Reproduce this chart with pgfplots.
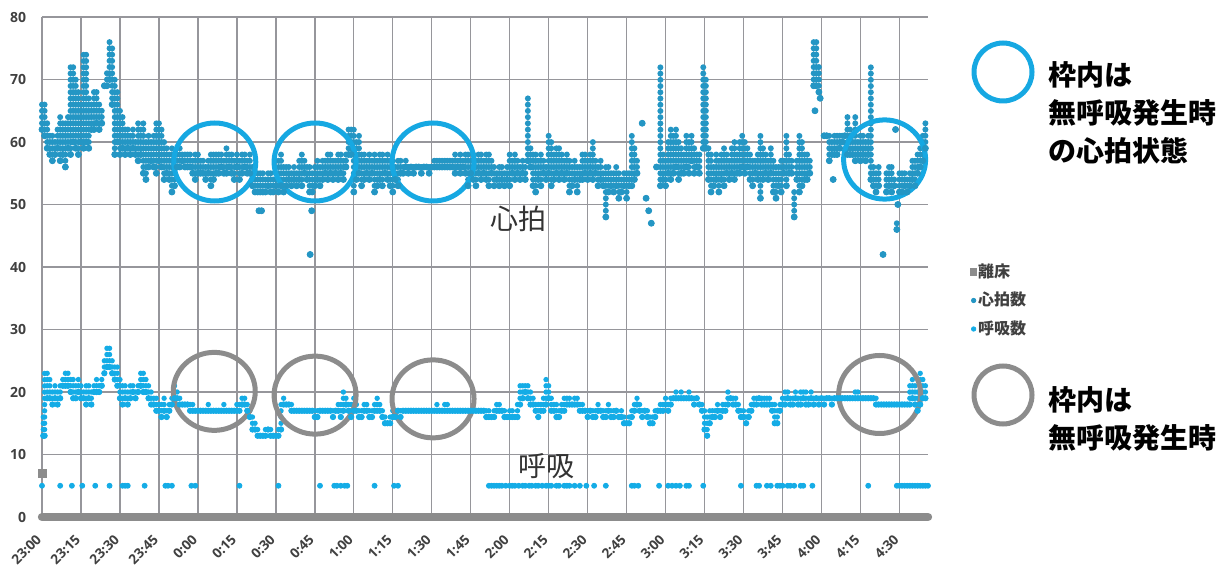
\documentclass[border=0pt]{standalone}
\usepackage{fontspec}
\setmainfont{Open Sans}
\newfontfamily\jp{Noto Sans CJK JP}
\usepackage{pgfplots}
\pgfplotsset{compat=1.18}
\usepackage{pgfplotstable}
\definecolor{hr}{RGB}{36,150,196}
\definecolor{br}{RGB}{20,172,230}
\definecolor{ringblue}{RGB}{22,168,226}
\definecolor{ringgray}{RGB}{140,140,140}
\definecolor{gridc}{RGB}{150,150,155}
\definecolor{barc}{RGB}{140,140,140}
\definecolor{tickc}{RGB}{64,64,64}

\pgfplotstableread{
m lo hi
0 62 66
1 61 66
2 59 63
3 58 61
4 57 61
5 58 60
6 59 62
7 57 64
8 58 63
9 56 63
10 59 64
11 58 72
12 60 72
13 59 70
14 58 68
15 60 66
16 59 74
17 60 74
18 59 67
19 62 66
20 62 68
21 63 68
22 62 66
23 63 65
24 69 69
25 69 71
26 70 76
27 66 75
28 58 70
29 60 68
30 58 65
31 59 64
32 58 62
33 59 62
34 58 61
35 59 62
36 58 60
37 57 63
38 58 62
39 55 63
40 54 60
41 56 61
42 57 60
43 56 61
44 55 63
45 57 63
46 56 62
47 54 60
48 55 59
49 54 58
50 52 59
51 53 57
52 56 58
53 56 59
54 57 58
55 56 58
56 56 58
57 56 58
58 55 57
59 54 58
60 55 58
61 55 57
62 55 57
63 54 56
64 55 57
65 53 58
66 54 58
67 55 58
68 55 58
69 56 58
70 55 57
71 55 59
72 56 58
73 55 58
74 54 57
75 56 58
76 54 57
77 55 58
78 56 58
79 55 57
80 55 58
81 53 56
82 52 55
83 52 55
83.5 49 49
84.5 49 49
84 52 55
85 52 55
86 52 54
87 53 55
88 52 55
89 52 54
90 53 55
91 52 57
92 53 58
93 52 56
94 53 56
95 54 56
96 53 55
97 54 56
98 53 55
99 54 57
100 53 58
101 55 57
102 54 56
103 52 56
103.2 42 42
103.8 49 49
104 52 55
105 53 56
106 54 57
107 53 56
108 54 57
109 55 57
110 54 58
111 55 58
112 54 57
113 55 57
114 54 58
115 55 58
116 54 57
117 56 58
118 58 62
119 58 62
120 52 62
121 54 60
122 55 61
123 53 58
124 54 58
125 55 57
126 54 58
127 55 57
128 52 58
129 53 57
130 54 58
131 53 58
132 55 57
133 54 58
134 53 57
135 52 57
136 54 56
137 53 57
138 55 57
139 55 56
140 56 57
141 55 56
142 56 56
143 55 56
144 56 56
145 56 56
146 55 56
147 56 56
148 56 56
149 55 56
150 56 56
151 56 57
152 56 57
153 56 57
154 56 57
155 56 57
156 56 57
157 56 57
158 56 57
159 55 58
160 56 57
161 55 58
162 56 57
163 55 58
164 53 58
165 55 57
166 54 58
167 53 57
168 55 58
169 54 58
170 55 57
171 54 58
172 53 58
173 55 57
174 53 56
175 54 55
176 53 56
177 54 56
178 53 55
179 54 56
180 53 58
181 55 57
182 54 58
183 55 57
184 54 56
185 55 57
186 54 56
187 57 67
188 56 59
189 53 58
190 52 58
191 54 57
192 53 58
193 55 57
194 54 56
195 55 61
196 53 60
197 54 58
198 55 59
199 54 59
200 55 58
201 54 57
202 55 58
203 52 57
204 53 56
205 54 57
206 52 56
207 54 56
208 54 58
209 55 58
210 54 57
211 55 58
212 54 60
213 55 57
214 53 56
215 54 57
216 53 55
217 48 56
218 52 56
219 53 55
220 52 55
221 53 56
222 51 55
223 52 54
224 53 55
225 51 55
226 53 55
227 53 61
228 54 59
229 55 57
231 63 63
232.5 51 51
233.5 49 49
234.5 47 47
236.5 56 56
238 53 72
239 54 58
240 53 57
241 55 60
242 54 62
243 55 61
244 56 62
245 54 60
246 55 59
247 55 58
248 56 61
249 55 60
250 57 61
251 55 59
252 56 58
253 55 58
254.5 59 72
255.5 59 70
256.5 54 59
257.5 52 58
258.5 53 56
259.5 54 58
260.5 52 57
261.5 54 58
262.5 53 59
263.5 55 58
264.5 54 57
265.5 55 59
266.5 54 60
267.5 55 58
268.5 55 60
269.5 56 61
270.5 55 60
271.5 56 59
272.5 54 58
273.5 53 57
274.5 55 57
275.5 54 58
276.5 51 61
277.5 54 59
278.5 55 58
279.5 54 57
280.5 55 59
281.5 52 57
282.5 51 56
283.5 53 56
284.5 52 57
285.5 55 57
286.5 53 61
287.5 55 58
288.5 55 57
289.5 48 52
290.5 54 57
291.5 52 61
292.5 53 60
293.5 54 58
294.5 54 58
295.5 55 57
297 69 76
298 69 76
299 68 72
299.5 67 67
297.5 65 65
301 61 61
302 61 61
303 57 61
304 58 60
304.5 54 54
305 58 61
306 58 61
307 59 61
308 60 61
309 61 61
310 58 64
311 58 62
312 58 61
313 57 64
314 58 60
315 57 61
316 58 61
317 57 60
318 58 61
319 54 72
320 53 56
321 52 55
322 53 56
323.7 42 42
325 52 55
326 53 56
327 52 56
328 53 54
329 46 47
329.4 50 50
328.5 62 62
330 52 55
331 52 55
332 53 55
333 52 54
334 53 55
335 54 57
336 53 57
337 55 58
338 56 59
339 57 61
340 59 63
}\hrdata

\pgfplotstableread{
m lo hi
0.5 13 16
1 13 23
2 19 23
3 19 22
4 18 20
5 19 21
6 18 20
7 19 21
8 21 22
9 21 23
10 21 23
11 20 22
12 19 22
13 19 21
14 20 22
15 19 21
16 19 20
17 18 21
18 19 21
19 18 20
20 20 21
21 20 22
22 20 21
23 21 22
24 23 25
25 24 27
26 24 27
27 23 25
28 22 24
29 21 24
30 19 22
31 18 21
32 19 21
33 18 20
34 19 21
35 20 21
36 19 20
37 20 21
38 21 23
39 20 23
40 20 22
41 19 21
42 18 20
43 18 19
44 17 19
45 17 18
46 16 18
47 17 19
48 16 17
49 17 18
50 18 19
51 19 21
52 19 20
53 18 19
54 18 18
55 18 18
56 18 18
57 17 18
58 17 18
59 17 17
60 17 17
61 17 17
62 17 17
63 17 17
64 17 18
65 17 17
66 17 17
67 17 17
68 17 17
69 17 17
70 17 18
71 17 17
72 17 17
73 17 17
74 17 17
75 17 18
76 17 18
77 18 19
78 18 19
79 17 18
80 16 17
81 14 16
82 14 15
83 13 14
84 13 13
85 13 13
86 13 14
87 14 14
88 13 14
89 13 13
90 13 13
91 13 14
92 14 18
93 18 19
94 18 18
95 18 18
96 17 18
97 17 17
98 17 17
99 17 17
100 17 17
101 17 17
102 17 17
103 17 17
104 17 17
105 16 17
106 16 17
107 17 17
108 17 17
109 17 17
110 17 17
111 17 17
112 16 17
113 17 17
114 17 18
115 16 18
116 17 20
117 18 19
118 17 18
119 16 18
120 17 19
121 17 18
122 16 17
123 16 17
124 17 18
125 17 18
126 16 17
127 16 17
128 17 18
129 17 19
130 17 18
131 16 17
132 15 16
133 15 15
134 15 16
135 16 17
136 16 17
137 17 17
138 16 17
139 17 17
140 17 17
141 17 17
142 17 17
143 17 17
144 17 17
145 17 17
146 17 17
147 17 17
148 17 17
149 17 17
150 17 17
151 17 17
152 17 18
153 17 17
154 17 17
155 17 18
156 17 18
157 17 17
158 17 17
159 17 17
160 17 17
161 17 17
162 17 17
163 17 17
164 17 17
165 17 17
166 17 17
167 17 17
168 17 17
169 17 17
170 17 17
171 16 17
172 16 17
173 16 16
174 16 17
175 17 18
176 17 18
177 17 17
178 16 17
179 16 16
180 16 17
181 16 17
182 16 16
183 16 18
184 18 21
185 19 21
186 20 21
187 19 21
188 18 20
189 18 19
190 17 18
191 16 18
192 17 18
193 17 19
194 18 22
195 19 21
196 17 19
197 17 18
198 16 18
199 16 17
200 17 18
201 17 19
202 18 19
203 18 19
204 18 18
205 18 19
206 18 19
207 17 18
208 17 18
209 17 17
210 16 17
211 17 17
212 16 17
213 16 17
214 17 18
215 17 17
216 16 17
217 16 17
218 17 18
219 16 17
220 16 17
221 17 17
222 16 16
223 16 17
224 15 16
225 15 15
226 15 16
227 16 17
228 17 18
229 18 19
230 17 18
231 16 17
232 17 17
233 16 17
234 15 16
235 15 16
236 16 17
237 17 17
238 17 18
239 17 18
240 18 19
241 17 18
242 18 19
243 19 19
244 19 20
245 19 19
246 19 20
247 19 19
248 19 19
249 19 20
250 19 19
251 18 19
252 19 19
253 18 18
254 17 18
255 14 17
256 13 16
257 15 17
258 16 17
259 16 17
260 17 18
261 16 17
262 17 18
263 17 18
264 18 20
265 19 19
266 18 19
267 18 19
268 17 18
269 16 17
270 16 17
271 15 16
272 16 17
273 17 18
274 18 19
275 18 19
276 19 19
277 18 19
278 18 19
279 18 19
280 18 19
281 17 18
282 15 18
283 15 17
284 17 18
285 18 19
286 18 20
287 19 20
288 18 19
289 18 19
290 19 20
291 18 19
292 18 20
293 19 20
294 18 20
295 18 19
296 19 20
297 18 19
298 19 19
299 18 19
300 19 19
301 18 19
302 19 19
303 19 19
304 18 19
305 19 19
306 19 19
307 19 19
308 19 19
309 19 19
310 19 19
311 19 19
312 19 19
313 19 20
314 19 20
315 19 19
316 19 19
317 19 19
318 19 19
319 19 19
320 19 19
321 18 19
322 18 18
323 18 18
324 18 18
325 18 18
326 18 18
327 18 18
328 18 18
329 18 18
330 18 18
331 18 18
332 18 18
333 18 18
334 18 21
335 19 22
336 18 21
337 17 20
338 18 23
339 19 22
340 19 21
}\brdata

\begin{document}
\begin{tikzpicture}
\path[use as bounding box] (0,0) rectangle (613pt,284pt);
\begin{axis}[
  at={(21pt,25.5pt)}, anchor=south west,
  width=443pt, height=250pt, scale only axis,
  xmin=0, xmax=341, ymin=0, ymax=80,
  clip=false,
  xtick={0,15,...,330},
  xticklabels={23:00,23:15,23:30,23:45,0:00,0:15,0:30,0:45,1:00,1:15,1:30,1:45,2:00,2:15,2:30,2:45,3:00,3:15,3:30,3:45,4:00,4:15,4:30},
  ytick={0,10,...,80},
  grid=major,
  major grid style={color=gridc, line width=0.7pt},
  axis line style={draw=none},
  major tick length=0pt,
  /pgf/number format/assume math mode=true,
  every tick label/.append style={font=\fontsize{7}{8}\selectfont\bfseries, text=tickc},
  every y tick label/.append style={inner sep=0pt, xshift=-7.8pt},
  every x tick label/.append style={font=\fontsize{6.8}{8}\selectfont\bfseries, xshift=-1.5pt, yshift=-10pt, rotate=45, anchor=east, inner sep=0pt},
  legend style={at={(1.047,0.433)}, anchor=west, draw=none, fill=none,
    font=\jp\bfseries\fontsize{8}{9}\selectfont, text=tickc, row sep=5.5pt, inner sep=0pt,
    nodes={inner sep=0.5pt, text height=6.5pt, text depth=1.25pt}},
  legend cell align=left,
]
% 離床
\addplot[only marks, mark=square*, mark size=2pt, color=barc,
  legend image code/.code={\fill[barc] (-1.6pt,-1.6pt) rectangle (1.6pt,1.6pt);}]
  coordinates {(0,7)};
\addlegendentry{離床}
% 心拍数
\addplot[only marks, mark=*, mark size=1.5pt, color=hr,
  legend image code/.code={\fill[hr] (0pt,0pt) circle (1.1pt);},
  error bars/.cd, y dir=plus, y explicit, error mark=none,
  error bar style={line width=3pt, line cap=round, dash pattern=on 0pt off 3.115pt, color=hr}]
  table[x=m, y=lo, y error expr=\thisrow{hi}-\thisrow{lo}] {\hrdata};
\addlegendentry{心拍数}
% 呼吸数
\addplot[only marks, mark=*, mark size=1.35pt, color=br,
  legend image code/.code={\fill[br] (0pt,0pt) circle (1.1pt);},
  error bars/.cd, y dir=plus, y explicit, error mark=none,
  error bar style={line width=2.7pt, line cap=round, dash pattern=on 0pt off 3.115pt, color=br}]
  table[x=m, y=lo, y error expr=\thisrow{hi}-\thisrow{lo}] {\brdata};
\addlegendentry{呼吸数}
% apnea marks at 5
\addplot[only marks, mark=*, mark size=1.25pt, color=br, forget plot] coordinates {
(0,5) (7,5) (11.5,5) (15.5,5) (20.5,5) (26,5) (31,5) (32,5) (33,5) (39.5,5)
(47.5,5) (48.5,5) (50,5) (57.5,5) (59,5) (76,5) (91,5) (107,5) (112.5,5) (113.5,5)
(115,5) (116.5,5) (117.5,5) (128,5) (135.5,5) (137,5)
(172,5) (173,5) (174,5) (175,5) (176,5) (177,5) (178.5,5) (180,5) (181,5) (182,5)
(183.5,5) (185,5) (186,5) (187.5,5) (188.5,5) (190,5) (191,5) (192.5,5) (194,5) (195,5)
(196,5) (198,5) (199,5) (201,5) (202,5) (203,5) (205,5) (207,5) (209.5,5) (212.5,5)
(217,5) (227,5) (228,5) (229.5,5) (237.5,5) (241,5) (242.5,5) (244,5) (245.5,5) (248,5)
(249,5) (254.5,5) (269,5) (275,5) (276,5) (279,5) (280.5,5) (283,5) (284,5) (285,5)
(287,5) (288,5) (289.5,5) (292,5) (293,5) (296.5,5) (318,5)
(329,5) (330,5) (331,5) (332,5) (333,5) (334,5) (335,5) (336,5) (337,5) (338,5) (339,5) (340,5) (341,5)
};
% 離床 bar at 0
\addplot[color=barc, line width=4.2pt, line cap=round, forget plot] coordinates {(0,0) (341,0)};

% annotation rings
\draw[ringblue, line width=2.5pt] (axis cs:66.5,56.8) ellipse (20.5pt and 19.5pt);
\draw[ringblue, line width=2.5pt] (axis cs:105.1,56.8) ellipse (20.5pt and 19.5pt);
\draw[ringblue, line width=2.5pt] (axis cs:150.5,56.8) ellipse (20.5pt and 19.5pt);
\draw[ringblue, line width=2.5pt] (axis cs:324.3,57.2) ellipse (20.5pt and 19.8pt);
\draw[ringgray, line width=2.5pt] (axis cs:66.3,20.1) ellipse (20.5pt and 19.5pt);
\draw[ringgray, line width=2.5pt] (axis cs:105.1,19.5) ellipse (20.5pt and 19.5pt);
\draw[ringgray, line width=2.5pt] (axis cs:150.5,18.9) ellipse (20.5pt and 19.5pt);
\draw[ringgray, line width=2.5pt] (axis cs:322.4,19.6) ellipse (20.5pt and 19.5pt);

\node[font=\jp\fontsize{14}{14}\selectfont, text=black!80] at (axis cs:183.2,47.7) {心拍};
\node[font=\jp\fontsize{14}{14}\selectfont, text=black!80] at (axis cs:194.3,8.1) {呼吸};
\end{axis}

\draw[ringblue, line width=2.5pt] (501.5pt,248pt) circle (14.5pt);
\node[anchor=west, inner sep=0pt, align=left, font=\jp\bfseries\fontsize{14}{19}\selectfont] at (524pt,227.5pt) {枠内は\\無呼吸発生時\\の心拍状態};
\draw[ringgray, line width=2.5pt] (501.5pt,86.5pt) circle (14.5pt);
\node[anchor=west, inner sep=0pt, align=left, font=\jp\bfseries\fontsize{14}{19}\selectfont] at (524pt,74.5pt) {枠内は\\無呼吸発生時};
\end{tikzpicture}
\end{document}
